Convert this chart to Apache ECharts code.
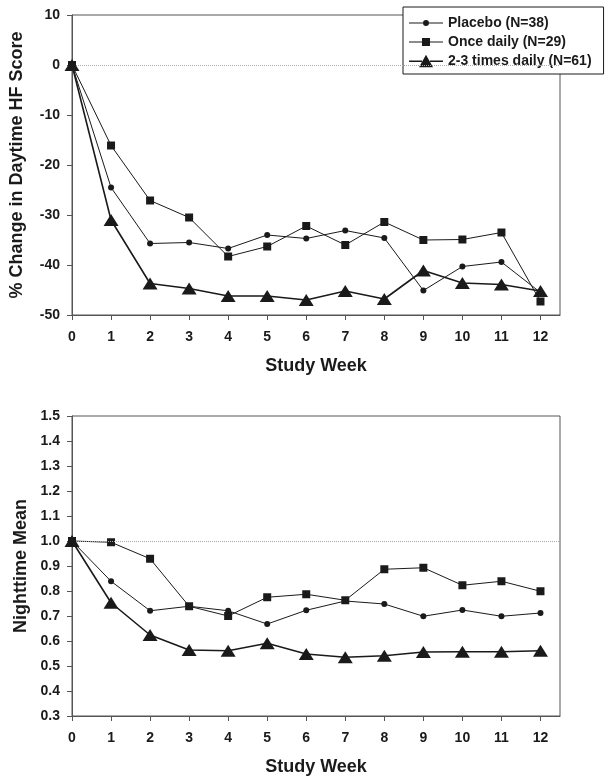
<!DOCTYPE html>
<html>
<head>
<meta charset="utf-8">
<script src="https://cdn.jsdelivr.net/npm/echarts@6/dist/echarts.min.js"></script>
<style>html,body{margin:0;padding:0;background:#fff;}#c{width:612px;height:780px;}</style>
</head>
<body>
<div id="c"></div>
<script>
const weeks = [0,1,2,3,4,5,6,7,8,9,10,11,12];
const seriesNames = ['Placebo (N=38)', 'Once daily (N=29)', '2-3 times daily (N=61)'];
// Top: % change in daytime HF score
const dayPlacebo = [0,-24.5,-35.7,-35.5,-36.7,-34.0,-34.7,-33.1,-34.6,-45.1,-40.3,-39.4,-45.5];
const dayOnce    = [0,-16.1,-27.1,-30.5,-38.3,-36.3,-32.2,-36.0,-31.4,-35.0,-34.9,-33.5,-47.3];
const dayMulti   = [0,-31.0,-43.7,-44.7,-46.2,-46.2,-47.0,-45.2,-46.8,-41.1,-43.6,-43.9,-45.2];
// Bottom: nighttime mean
const nightPlacebo = [1.0,0.839,0.721,0.739,0.721,0.668,0.723,0.760,0.748,0.699,0.724,0.699,0.712];
const nightOnce    = [1.0,0.995,0.929,0.739,0.700,0.775,0.787,0.763,0.887,0.893,0.823,0.839,0.799];
const nightMulti   = [1.0,0.753,0.624,0.564,0.561,0.591,0.548,0.535,0.541,0.556,0.557,0.557,0.561];

const FONT = "'Liberation Sans', Arial, sans-serif";
const INK = '#1a1a1a';
const AX = '#555';

// legend icons: short line with marker in the middle (34 x 14 box)
const ICONS = [
  'path://M14 7A3 3 0 1 1 20 7A3 3 0 1 1 14 7Z M0 6.5H14V7.5H0Z M20 6.5H34V7.5H20Z',
  'path://M13 3H21V11H13Z M0 6.5H13V7.5H0Z M21 6.5H34V7.5H21Z',
  'path://M17 0.5L24 13L10 13Z M0 6.2H13V7.8H0Z M21 6.2H34V7.8H21Z'
];

function pairs(vals){ return weeks.map((w,i)=>[w, vals[i]]); }

function xAxis(gi){
  return {
    type:'value', gridIndex:gi, min:0, max:12.5,
    axisLine:{show:true, onZero:false, lineStyle:{color:AX, width:1}},
    axisTick:{show:true, length:5, lineStyle:{color:AX}, customValues:weeks},
    axisLabel:{customValues:weeks, margin:15, fontFamily:FONT, fontWeight:'bold', fontSize:14, color:INK},
    splitLine:{show:false},
    name:'Study Week', nameLocation:'middle', nameGap:42,
    nameTextStyle:{fontFamily:FONT, fontWeight:'bold', fontSize:18, color:INK}
  };
}

const styles = [
  {symbol:'circle', symbolSize:6, width:1},
  {symbol:'rect', symbolSize:8, width:1},
  {symbol:'triangle', symbolSize:[15,12], width:1.6}
];

function mkSeries(name, vals, gi, st, mark){
  const s = {
    name:name, type:'line', xAxisIndex:gi, yAxisIndex:gi,
    data:pairs(vals), symbol:st.symbol, symbolSize:st.symbolSize,
    showAllSymbol:true, animation:false,
    lineStyle:{color:INK, width:st.width},
    itemStyle:{color:INK},
    z: st.symbol==='triangle'?5:3
  };
  if (mark !== undefined){
    s.markLine = {silent:true, symbol:['none','none'], label:{show:false},
      lineStyle:{type:'dotted', color:'#aaa', width:1},
      data:[{yAxis:mark}]};
  }
  return s;
}

const chart = echarts.init(document.getElementById('c'), null, {renderer:'canvas'});
chart.setOption({
  backgroundColor:'#fff',
  animation:false,
  grid:[
    {left:72, right:52, top:15, bottom:465, show:true, borderColor:AX, borderWidth:1, backgroundColor:'transparent'},
    {left:72, right:52, top:416, bottom:64, show:true, borderColor:AX, borderWidth:1, backgroundColor:'transparent'}
  ],
  legend:{
    data:seriesNames.map((n,i)=>({name:n, icon:ICONS[i]})),
    orient:'vertical', left:403, top:7,
    padding:[9,12,6,6], itemGap:5, itemWidth:34, itemHeight:14,
    backgroundColor:'#fff', borderColor:INK, borderWidth:1, borderRadius:0,
    itemStyle:{borderWidth:0},
    textStyle:{fontFamily:FONT, fontWeight:'bold', fontSize:14, color:INK},
    selectedMode:false
  },
  xAxis:[xAxis(0), xAxis(1)],
  yAxis:[
    {type:'value', gridIndex:0, min:-50, max:10, interval:10,
     axisLine:{show:true, onZero:false, lineStyle:{color:AX}},
     axisTick:{show:true, length:5, lineStyle:{color:AX}},
     axisLabel:{margin:12, fontFamily:FONT, fontWeight:'bold', fontSize:14, color:INK},
     splitLine:{show:false},
     name:'% Change in Daytime HF Score', nameLocation:'middle', nameGap:46,
     nameTextStyle:{fontFamily:FONT, fontWeight:'bold', fontSize:18, color:INK}},
    {type:'value', gridIndex:1, min:0.3, max:1.5, interval:0.1,
     axisLine:{show:true, onZero:false, lineStyle:{color:AX}},
     axisTick:{show:true, length:5, lineStyle:{color:AX}},
     axisLabel:{margin:12, fontFamily:FONT, fontWeight:'bold', fontSize:14, color:INK,
       formatter:(v)=>v.toFixed(1)},
     splitLine:{show:false},
     name:'Nighttime Mean', nameLocation:'middle', nameGap:42,
     nameTextStyle:{fontFamily:FONT, fontWeight:'bold', fontSize:18, color:INK}}
  ],
  series:[
    mkSeries(seriesNames[0], dayPlacebo, 0, styles[0], 0),
    mkSeries(seriesNames[1], dayOnce, 0, styles[1]),
    mkSeries(seriesNames[2], dayMulti, 0, styles[2]),
    mkSeries(seriesNames[0], nightPlacebo, 1, styles[0], 1.0),
    mkSeries(seriesNames[1], nightOnce, 1, styles[1]),
    mkSeries(seriesNames[2], nightMulti, 1, styles[2])
  ]
});
</script>
</body>
</html>
